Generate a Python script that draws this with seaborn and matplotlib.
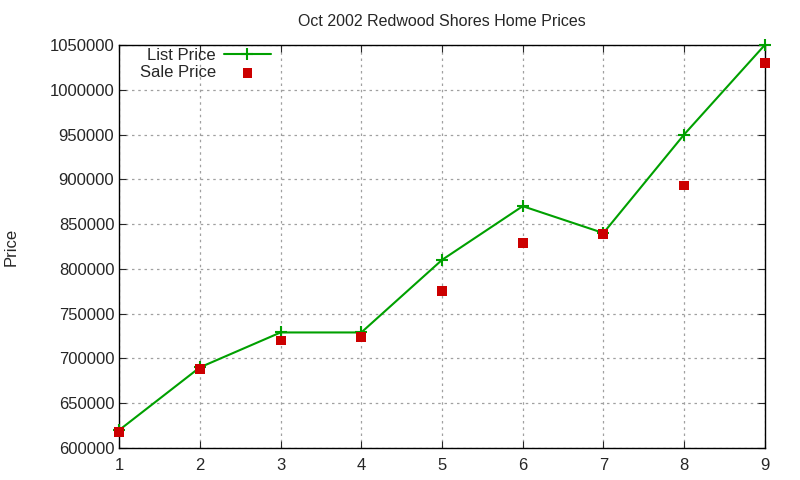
import matplotlib.pyplot as plt
import seaborn as sns
import pandas as pd

# Daten
house = [1, 2, 3, 4, 5, 6, 7, 8, 9]
list_price = [620000, 690000, 729000, 729000, 810000, 870000, 840000, 950000, 1050000]
sale_price = [618000, 688000, 720000, 724000, 775000, 829000, 839000, 893000, 1030000]

df = pd.DataFrame({'house': house, 'list': list_price, 'sale': sale_price})

sns.set_style('ticks')
plt.rcParams['font.family'] = ['Liberation Sans', 'DejaVu Sans']

fig = plt.figure(figsize=(8, 4.8), dpi=100)
ax = fig.add_axes([0.149, 0.0667, 0.807, 0.8396])

sns.lineplot(x='house', y='list', data=df, ax=ax, color='#00a000', marker='+',
             markersize=8, markeredgewidth=1.5, markeredgecolor='#00a000', linewidth=1.5,
             label='List Price', zorder=3, clip_on=False)
sns.scatterplot(x='house', y='sale', data=df, ax=ax, color='#cc0000', marker='s',
                s=50, edgecolor='none', label='Sale Price', zorder=4, clip_on=False)

ax.set_xlim(1, 9)
ax.set_ylim(600000, 1050000)
ax.set_xticks(house)
ax.set_yticks(range(600000, 1050001, 50000))
ax.ticklabel_format(style='plain', axis='y')
ax.grid(True, linestyle=(0, (2, 3)), color='#a0a0a0', linewidth=0.9)
ax.tick_params(direction='in', top=True, right=True, labelsize=12, length=5)
ax.tick_params(axis='x', pad=7)
for s in ax.spines.values():
    s.set_linewidth(1.0)
    s.set_color('black')

ax.set_xlabel('')
ax.set_ylabel('Price', fontsize=12, labelpad=22)
ax.set_title('Oct 2002 Redwood Shores Home Prices', fontsize=11.5, pad=14)

ax.legend(loc='upper right', bbox_to_anchor=(0.24, 1.0), frameon=False, markerfirst=False,
          fontsize=12, handlelength=2.8, borderpad=0.2, labelspacing=0.1,
          handletextpad=0.5, borderaxespad=0.0)

plt.savefig('out.png', dpi=100)
